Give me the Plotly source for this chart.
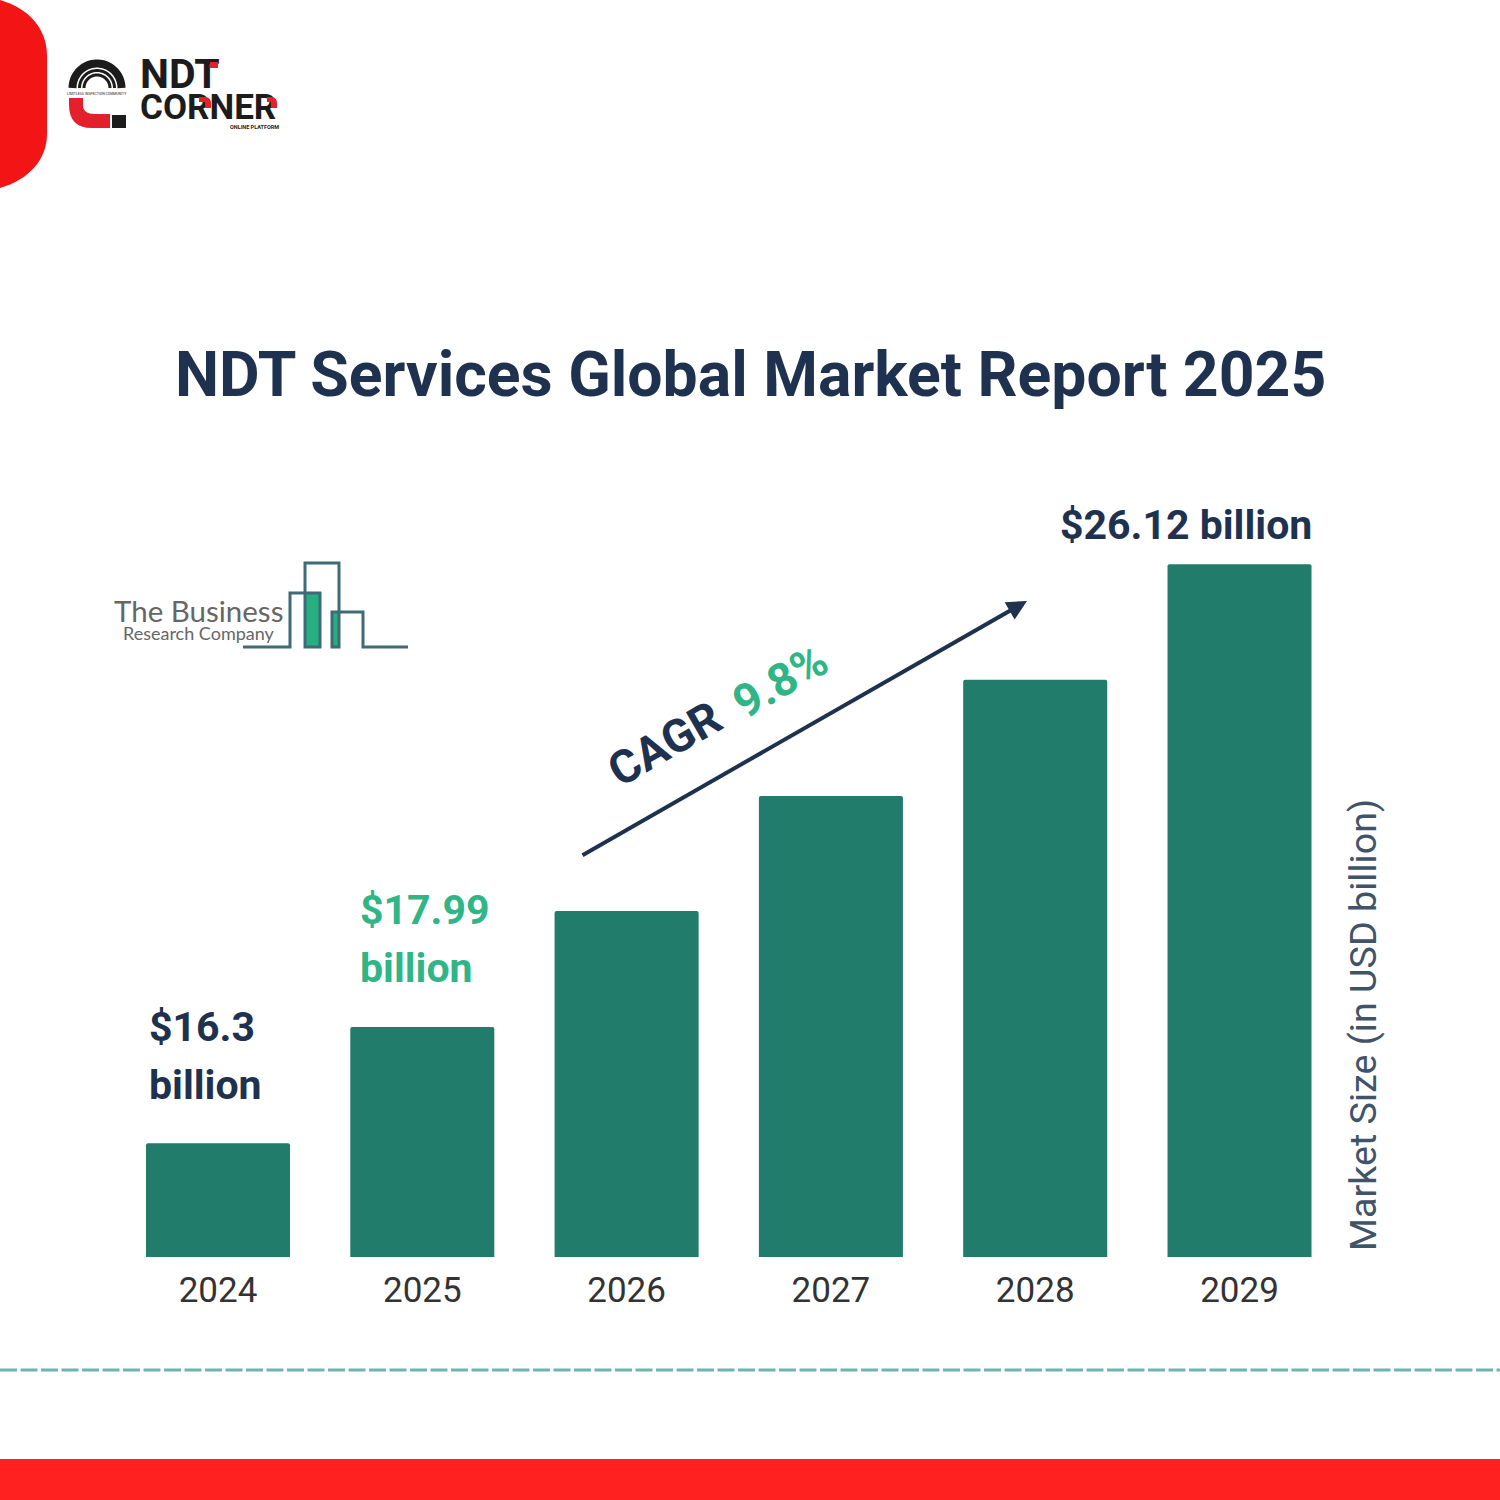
import numpy as np
import plotly.graph_objects as go

years = [2024, 2025, 2026, 2027, 2028, 2029]
market_size = [16.30, 18.27, 20.24, 22.19, 24.16, 26.12]
year_labels = ["2024", "2025", "2026", "2027", "2028", "2029"]

NAVY = "#1e3250"
TEAL = "#217c6b"
GREEN = "#2fb586"
RED = "#f31515"
LOGO_RED = "#e3202b"
LOGO_BLACK = "#1c1c1c"
OUTLINE = "#3f6a78"


def arc(cx, cy, r, start=180, end=360, steps=40):
    a = np.radians(np.linspace(start, end, steps))
    pts = [f"{cx + r * np.cos(t):.2f},{cy + r * np.sin(t):.2f}" for t in a]
    return "M" + " L".join(pts)


def px_shape(**kw):
    return dict(xref="x2", yref="y2", **kw)


def px_note(text, x, y, size, color, family="Roboto", anchor="left", angle=0):
    return dict(
        text=text, x=x, y=y, xref="x2", yref="y2", showarrow=False,
        xanchor=anchor, yanchor="middle", textangle=angle,
        font=dict(family=family, size=size, color=color),
    )


fig = go.Figure()

fig.add_trace(go.Bar(
    x=years, y=market_size, width=0.705,
    marker=dict(color=TEAL, cornerradius=2, line=dict(width=0)),
    hoverinfo="skip",
))

# logo lettering sits in a trace so the red accents can be drawn over it
fig.add_trace(go.Scatter(
    x=[140, 140, 230], y=[78, 110, 128],
    text=["<b>NDT</b>", "<b>CORNER</b>", "<b>ONLINE PLATFORM</b>"],
    mode="text", textposition="middle right",
    textfont=dict(family="Roboto", size=[41, 35, 5.5], color=LOGO_BLACK),
    xaxis="x2", yaxis="y2", hoverinfo="skip",
))

shapes = [
    # red corner panel and footer
    px_shape(type="path", path="M0,0 C28,8 47,28 47,56 L47,134 C47,160 28,180 0,188 Z",
             fillcolor=RED, line_width=0),
    px_shape(type="rect", x0=0, x1=1500, y0=1459, y1=1500, fillcolor="#ff2020", line_width=0),
    px_shape(type="line", x0=0, x1=1500, y0=1370, y1=1370,
             line=dict(color="#6fb5ac", width=3, dash="17px,3.5px")),
    # NDT Corner mark
    px_shape(type="path", path=arc(97, 88, 24.5), line=dict(color=LOGO_BLACK, width=8)),
    px_shape(type="path", path=arc(97, 88, 17.5), line=dict(color=LOGO_BLACK, width=3)),
    px_shape(type="path", path=arc(97, 88, 13), line=dict(color=LOGO_BLACK, width=3)),
    px_shape(type="path", path="M69,98 L83,98 L83,105 Q83,114 95,114 L110,114 L110,128 L92,128 Q69,128 69,105 Z",
             fillcolor=LOGO_RED, line_width=0),
    px_shape(type="rect", x0=112, x1=126, y0=115, y1=128, fillcolor=LOGO_BLACK, line_width=0),
    px_shape(type="rect", x0=210, x1=218, y0=62, y1=68, fillcolor=LOGO_RED, line_width=0),
    px_shape(type="path", path="M199,97 L206,97 Q211,98 211,103 L211,108 L205,108 L205,102 L199,102 Z",
             fillcolor=LOGO_RED, line_width=0),
    px_shape(type="path", path="M267,97 L272,97 Q277,98 277,103 L277,108 L271,108 L271,102 L267,102 Z",
             fillcolor=LOGO_RED, line_width=0),
    # Business Research Company mark
    px_shape(type="rect", x0=305, x1=320, y0=593, y1=647, fillcolor="#26b07f", line_width=0),
    px_shape(type="rect", x0=332, x1=339, y0=612, y1=647, fillcolor="#26b07f", line_width=0),
    px_shape(type="path",
             path="M243,647 L290,647 L290,593 L320,593 L320,647 L305,647 L305,563 L339,563 "
                  "L339,647 L332,647 L332,612 L363,612 L363,647 L408,647",
             line=dict(color=OUTLINE, width=3)),
]

annotations = [
    px_note("<b>NDT Services Global Market Report 2025</b>", 750, 374, 62.5, NAVY, anchor="center"),
    px_note("<b>$26.12 billion</b>", 1058, 525, 41, NAVY),
    px_note("<b>$17.99</b>", 358, 910, 41, GREEN),
    px_note("<b>billion</b>", 358, 968, 41, GREEN),
    px_note("<b>$16.3</b>", 147, 1027, 41, NAVY),
    px_note("<b>billion</b>", 147, 1085, 41, NAVY),
    px_note("<b>CAGR</b>", 664, 744, 46, NAVY, anchor="center", angle=-30),
    px_note("<b>9.8%</b>", 780, 681, 46, GREEN, anchor="center", angle=-30),
    px_note("Market Size (in USD billion)", 1363, 1025, 37.7, "#3f5468", anchor="center", angle=-90),
    px_note("The Business", 112, 610, 29.5, "#666666", family="Lato"),
    px_note("Research Company", 121, 633, 18, "#666666", family="Lato"),
    px_note("LIMITLESS INSPECTION COMMUNITY", 97, 94, 3.5, LOGO_BLACK, anchor="center"),
    dict(x=1027, y=601, xref="x2", yref="y2", ax=-446, ay=255, text="",
         showarrow=True, arrowhead=2, arrowsize=1, arrowwidth=4, arrowcolor=NAVY, standoff=0),
]

fig.update_layout(
    width=1500, height=1500, margin=dict(l=0, r=0, t=0, b=0),
    paper_bgcolor="white", plot_bgcolor="rgba(0,0,0,0)",
    showlegend=False, shapes=shapes, annotations=annotations,
    xaxis=dict(
        domain=[0, 1], range=[2022.933, 2030.275], tickmode="array",
        tickvals=years, ticktext=year_labels, showgrid=False, zeroline=False,
        showline=False, ticks="", ticklabelstandoff=9,
        tickfont=dict(family="Roboto", size=35, color="#333333"),
    ),
    yaxis=dict(domain=[243 / 1500, 1], range=[14.37, 35.69], visible=False),
    xaxis2=dict(domain=[0, 1], range=[0, 1500], visible=False, anchor="y2"),
    yaxis2=dict(domain=[0, 1], range=[1500, 0], visible=False, anchor="x2"),
)

fig.write_html(
    "out.html",
    config=dict(displayModeBar=False),
    post_script="document.body.style.margin='0';document.body.style.overflow='hidden';",
)
